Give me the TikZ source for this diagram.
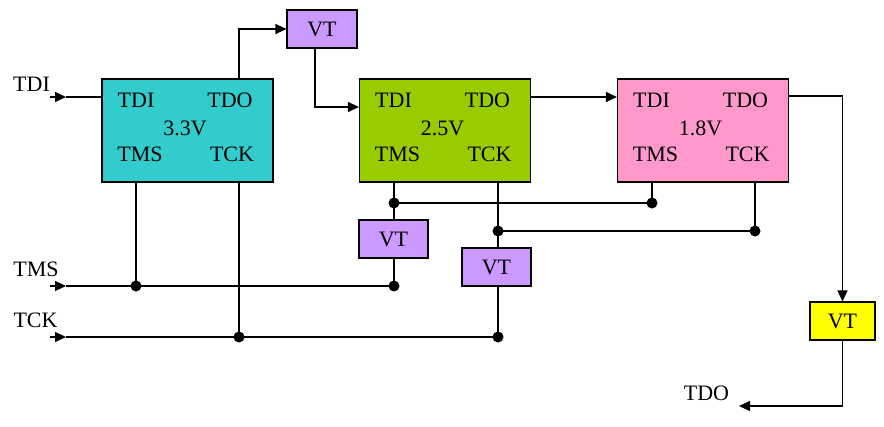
\documentclass[tikz,border=0pt]{standalone}
\usepackage{fontspec}
\setmainfont{Liberation Serif}
\usetikzlibrary{arrows.meta,calc}
\definecolor{cA}{HTML}{33CCCC}
\definecolor{cB}{HTML}{99CC00}
\definecolor{cC}{HTML}{FF99CC}
\definecolor{cVT}{HTML}{CC99FF}
\definecolor{cY}{HTML}{FFFF00}
\begin{document}
\begin{tikzpicture}[x=1pt,y=-1pt,
  chip/.style={draw,line width=1.1pt,minimum width=171pt,minimum height=103pt,inner sep=0pt},
  vtbox/.style={draw,line width=1.1pt,fill=cVT,minimum height=38pt,inner sep=0pt,font=\fontsize{22}{24}\selectfont},
  pin/.style={inner sep=0pt,font=\fontsize{22}{24}\selectfont},
  wire/.style={line width=1.1pt},
  arr/.style={wire,-{Triangle[length=11pt,width=10pt]}},
  jdot/.style={circle,fill,inner sep=0pt,minimum size=11pt}]
\useasboundingbox (0,0) rectangle (884,426);
% chips
\node[chip,fill=cA] (b1) at (187.5,130.5) {};
\node[chip,fill=cB] (b2) at (445,130.5) {};
\node[chip,fill=cC] (b3) at (703,130.5) {};
\foreach \b/\v in {b1/3.3V,b2/2.5V,b3/1.8V}{
  \node[pin] (\b-tdi) at ($(\b.center)+(-51.5,-30)$) {TDI};
  \node[pin] (\b-tdo) at ($(\b.center)+(42.5,-30)$) {TDO};
  \node[pin] (\b-v) at ($(\b.center)+(-2.5,-2.5)$) {\v};
  \node[pin] (\b-tms) at ($(\b.center)+(-47.5,24)$) {TMS};
  \node[pin] (\b-tck) at ($(\b.center)+(44.5,24)$) {TCK};
}
% level translators
\node[vtbox,minimum width=70pt] (vt1) at (322,29) {VT};
\node[vtbox,minimum width=69pt] (vt2) at (393.5,239) {VT};
\node[vtbox,minimum width=69pt] (vt3) at (496.5,267) {VT};
\node[vtbox,minimum width=65pt,fill=cY] (vt4) at (842.5,321) {VT};
% outer labels
\node[pin] (lTDI) at (31.5,84) {TDI};
\node[pin] (lTMS) at (36,269) {TMS};
\node[pin] (lTCK) at (35.5,320) {TCK};
\node[pin] (lTDO) at (706.5,393) {TDO};
% junction dots
\node[jdot] (d1) at (136,286) {};
\node[jdot] (d2) at (394,286) {};
\node[jdot] (d3) at (239,337) {};
\node[jdot] (d4) at (498,337) {};
\node[jdot] (d5) at (394,203) {};
\node[jdot] (d6) at (652,203) {};
\node[jdot] (d7) at (498,231) {};
\node[jdot] (d8) at (755,231) {};
% coordinates
\coordinate (tdiS) at (50,97);
\coordinate (tdiM) at (66,97);
\coordinate (tmsS) at (50,286);
\coordinate (tmsM) at (66,286);
\coordinate (tckS) at (50,337);
\coordinate (tckM) at (66,337);
\coordinate (b1o) at ($(b1.north)+(51.5,0)$);
\coordinate (vt1o) at ($(vt1.south)+(-7,0)$);
\coordinate (b2i) at ($(b2.west)+(0,-23.5)$);
\coordinate (b2o) at ($(b2.east)+(0,-33.5)$);
\coordinate (b3o) at ($(b3.east)+(0,-34.5)$);
\coordinate (tdoE) at (739,406);
% TDI chain
\draw[arr] (tdiS) -- (tdiM);
\draw[wire] (tdiM) -- (b1.west |- tdiM);
\draw[arr] (b1o) |- (vt1.west);
\draw[arr] (vt1o) |- (b2i);
\draw[arr] (b2o) -- (b2o -| b3.west);
\draw[arr] (b3o) -| (vt4.north);
\draw[arr] (vt4.south) |- (tdoE);
% TMS
\draw[arr] (tmsS) -- (tmsM);
\draw[wire] (tmsM) -- (d2.center);
\draw[wire] (b1.south -| d1) -- (d1.center);
\draw[wire] (b2.south -| d5) -- (vt2.north -| d5);
\draw[wire] (vt2.south -| d5) -- (d2.center);
\draw[wire] (d5.center) -- (d6.center);
\draw[wire] (b3.south -| d6) -- (d6.center);
% TCK
\draw[arr] (tckS) -- (tckM);
\draw[wire] (tckM) -- (d4.center);
\draw[wire] (b1.south -| d3) -- (d3.center);
\draw[wire] (b2.south -| d7) -- (vt3.north -| d7);
\draw[wire] (vt3.south -| d7) -- (d4.center);
\draw[wire] (d7.center) -- (d8.center);
\draw[wire] (b3.south -| d8) -- (d8.center);
\end{tikzpicture}
\end{document}
